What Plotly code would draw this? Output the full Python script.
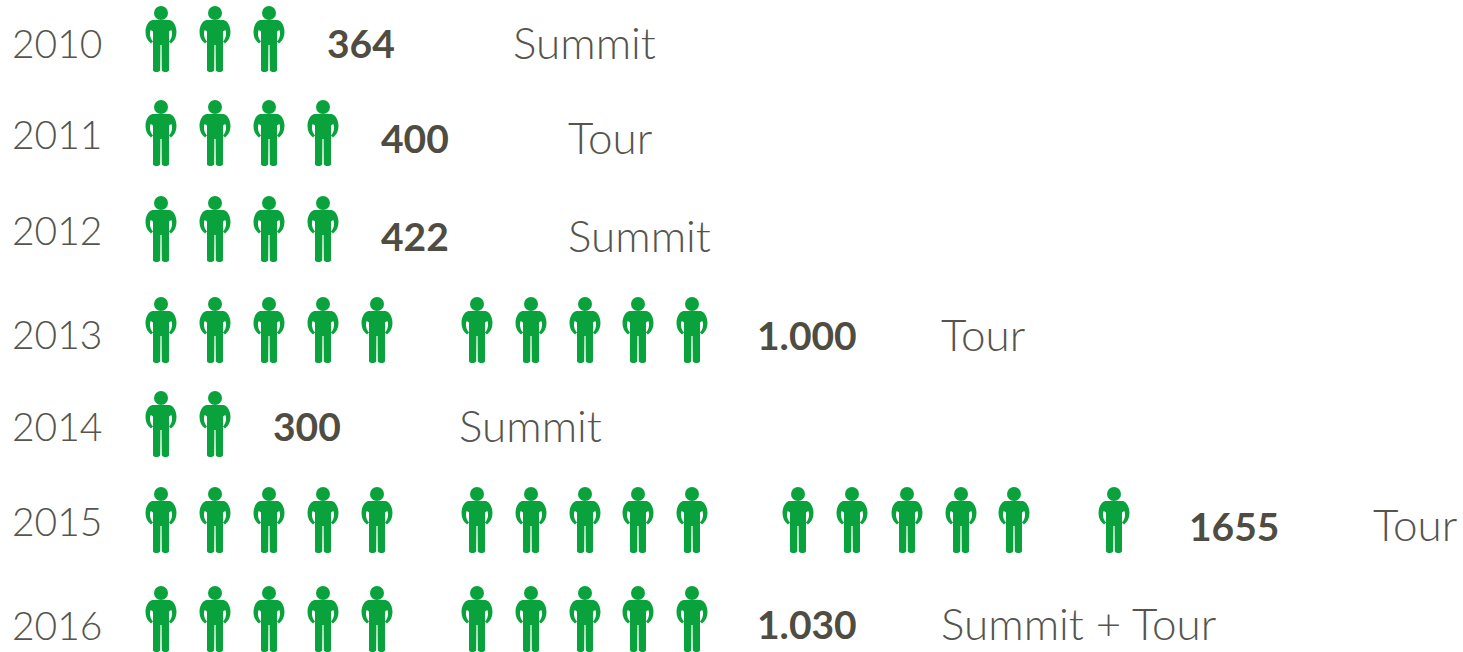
import plotly.graph_objects as go

years = ["2010", "2011", "2012", "2013", "2014", "2015", "2016"]
values = ["364", "400", "422", "1.000", "300", "1655", "1.030"]
events = ["Summit", "Tour", "Summit", "Tour", "Summit", "Tour", "Summit + Tour"]
icon_counts = [3, 4, 4, 10, 2, 16, 10]

# layout (axis units are pixels of the 1463x652 canvas)
ICON_COLS = [161, 215, 269, 323, 377, 477, 531, 585, 638, 692,
             798, 852, 907, 961, 1014, 1114]
ICON_ROWS = [39, 133, 229, 330, 424, 520, 619]
YEAR_ROWS = [48, 139, 235, 339, 431, 526, 630]
VALUE_X = [327, 381, 381, 757, 273, 1189, 757]
VALUE_Y = [48, 143, 241, 340, 431, 531, 629]
EVENT_X = [513, 568, 568, 941, 459, 1373, 941]
EVENT_Y = [48, 143, 241, 340, 431, 530, 629]
GREEN = "#0aa23c"
TEXT = "#55554e"
DARK = "#4f4c42"

BODY = ("M-8.5,-19 L8.5,-19 C12.5,-18.5 15.5,-13 15.5,-7 C15.5,-2 13.5,2 10,4.5 L8,2.5 "
        "C10.5,0 11,-3 11,-5.5 C11,-7 10.8,-8 10.2,-9 L8,-7.5 L8,31 "
        "C8,33.8 1.2,33.8 0.8,31 L0.6,6 L-0.6,6 L-0.8,31 C-1.2,33.8 -8,33.8 -8,31 "
        "L-8,-7.5 L-10.2,-9 C-10.8,-8 -11,-7 -11,-5.5 C-11,-3 -10.5,0 -8,2.5 L-10,4.5 "
        "C-13.5,2 -15.5,-2 -15.5,-7 C-15.5,-13 -12.5,-18.5 -8.5,-19 Z")


def flip(path):
    """Body path is written y-down; pixel-sized shapes count y upward."""
    out, is_y = [], False
    for tok in path.replace(",", " ").split():
        if tok[0].isalpha():
            cmd, tok = tok[0], tok[1:]
            out.append(cmd)
            is_y = False
            if not tok:
                continue
        out.append(str(-float(tok)) if is_y else tok)
        is_y = not is_y
    return " ".join(out)


body_path = flip(BODY)

fig = go.Figure()
head_x, head_y, shapes = [], [], []
for row, n in zip(ICON_ROWS, icon_counts):
    for col in ICON_COLS[:n]:
        head_x.append(col)
        head_y.append(row - 26)
        shapes.append(dict(type="path", xref="x", yref="y", xsizemode="pixel",
                           ysizemode="pixel", xanchor=col, yanchor=row,
                           path=body_path, fillcolor=GREEN, line=dict(width=0),
                           layer="above"))

fig.add_trace(go.Scatter(x=head_x, y=head_y, mode="markers", hoverinfo="skip",
                         marker=dict(size=14, color=GREEN, line=dict(width=0))))
fig.add_trace(go.Scatter(x=[12] * len(years), y=YEAR_ROWS, mode="text", text=years,
                         textposition="middle right",
                         textfont=dict(family="Lato", size=39, color=TEXT, weight=300)))
fig.add_trace(go.Scatter(x=VALUE_X, y=VALUE_Y, mode="text", text=values,
                         textposition="middle right",
                         textfont=dict(family="Lato", size=39, color=DARK, weight="bold")))
fig.add_trace(go.Scatter(x=EVENT_X, y=EVENT_Y, mode="text", text=events,
                         textposition="middle right",
                         textfont=dict(family="Lato", size=44, color=TEXT, weight=300)))

fig.update_layout(
    width=1463, height=652, margin=dict(l=0, r=0, t=0, b=0),
    paper_bgcolor="white", plot_bgcolor="white", showlegend=False, shapes=shapes,
    xaxis=dict(range=[0, 1463], visible=False, fixedrange=True),
    yaxis=dict(range=[652, 0], visible=False, fixedrange=True),
)
fig.write_html("out.html", config=dict(displayModeBar=False),
               post_script="document.body.style.margin='0';document.body.style.overflow='hidden';")
